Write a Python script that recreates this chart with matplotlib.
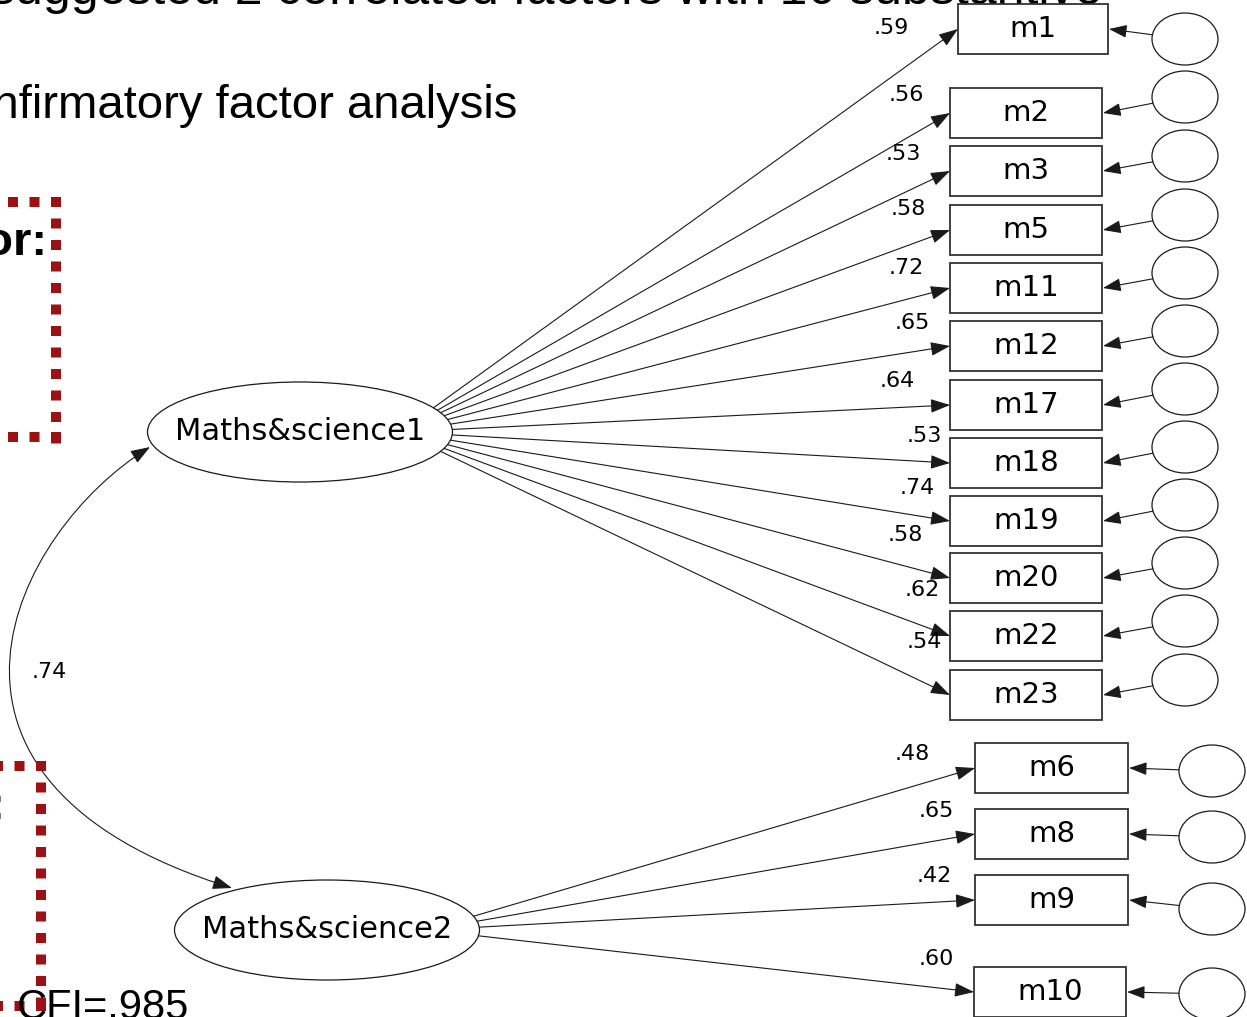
import numpy as np
import matplotlib.pyplot as plt
from matplotlib.patches import Ellipse, Rectangle, FancyArrowPatch
from matplotlib.path import Path

# values
factors = ['Maths&science1', 'Maths&science2']
f1_items = ['m1', 'm2', 'm3', 'm5', 'm11', 'm12', 'm17', 'm18', 'm19', 'm20', 'm22', 'm23']
f1_loadings = [0.59, 0.56, 0.53, 0.58, 0.72, 0.65, 0.64, 0.53, 0.74, 0.58, 0.62, 0.54]
f2_items = ['m6', 'm8', 'm9', 'm10']
f2_loadings = [0.48, 0.65, 0.42, 0.60]
factor_corr = 0.74
cfi = '.985'

# layout (pixels, y downwards)
f1_box_x = [958] + [950] * 11
f1_box_w = [150] + [152] * 11
f1_box_y = [29, 113, 171, 230, 288, 346, 405, 463, 521, 578, 636, 695]
f1_err_y = [39, 97, 156, 215, 273, 331, 389, 447, 505, 563, 621, 680]
f1_lab = [(891, 28), (906, 95), (903, 154), (908, 209), (906, 268), (912, 323),
          (897, 381), (924, 436), (917, 488), (905, 535), (922, 590), (924, 642)]
f2_box_x = [975, 975, 975, 974]
f2_box_w = [153, 153, 153, 152]
f2_box_y = [768, 834, 900, 992]
f2_err_y = [771, 837, 909, 994]
f2_lab = [(912, 754), (936, 811), (934, 876), (936, 959)]

W, H = 1247, 1017
fig = plt.figure(figsize=(W / 100, H / 100), dpi=100)
ax = fig.add_axes([0, 0, 1, 1])
ax.set_xlim(0, W)
ax.set_ylim(H, 0)
ax.axis('off')

LC = '#1a1a1a'
slide = 'Liberation Sans'
amos = 'DejaVu Sans'


def fmt(v):
    return f'{v:.2f}'.lstrip('0')


def edge(cx, cy, rx, ry, fx, fy, tx, ty):
    # point where segment focus->target leaves the ellipse
    dx, dy = tx - fx, ty - fy
    ux, uy = (fx - cx) / rx, (fy - cy) / ry
    vx, vy = dx / rx, dy / ry
    a = vx * vx + vy * vy
    b = 2 * (ux * vx + uy * vy)
    c = ux * ux + uy * uy - 1
    s = (-b + np.sqrt(b * b - 4 * a * c)) / (2 * a)
    return fx + s * dx, fy + s * dy


def arrow(p0, p1, hl=12, hw=4.3):
    ax.add_patch(FancyArrowPatch(p0, p1, arrowstyle=f'-|>,head_length={hl},head_width={hw}',
                                 mutation_scale=1, lw=0.8, color=LC, shrinkA=0, shrinkB=0, zorder=3))


# slide text behind the diagram
ax.text(-10, 4, 'suggested 2 correlated factors with 16 substantive', fontsize=36,
        family=slide, va='baseline', zorder=0)
ax.text(517, 118, 'Confirmatory factor analysis', fontsize=34, family=slide,
        ha='right', va='baseline', zorder=0)
ax.text(48, 255, 'Factor:', fontsize=34, family=slide, weight='bold', ha='right',
        va='baseline', zorder=0)
ax.text(6, 819, 'Factor:', fontsize=34, family=slide, weight='bold', ha='right',
        va='baseline', zorder=0)
ax.text(17, 1019, 'CFI=' + cfi, fontsize=30, family=slide, va='baseline', zorder=6)

red = '#9c1111'
dots = dict(color=red, lw=7.2, linestyle=(0, (1, 1.15)), solid_capstyle='butt')
ax.plot([61, 0], [202, 202], zorder=1, **dots)
ax.plot([56, 56], [197, 444], zorder=1, **dots)
ax.plot([61, 0], [437, 437], zorder=1, **dots)
ax.plot([46, 0], [766, 766], zorder=5, **dots)
ax.plot([41, 41], [761, 1010], zorder=5, **dots)
ax.plot([46, 0], [1006, 1006], zorder=5, **dots)

# latent factors
fac_c = [(300, 432), (327, 930)]
rx, ry = 152.5, 50
for (cx, cy), name in zip(fac_c, factors):
    ax.add_patch(Ellipse((cx, cy), 2 * rx, 2 * ry, fill=False, ec=LC, lw=0.9, zorder=4))
    ax.text(cx, cy - 1, name, fontsize=22, family=amos, ha='center', va='center', zorder=5)


def block(items, loads, bx, bw, by, ey, labs, fc, ecx):
    cx, cy = fc
    for it, ld, x0, w, y, e, (lx, ly) in zip(items, loads, bx, bw, by, ey, labs):
        ax.add_patch(Rectangle((x0, y - 25), w, 50, fc='white', ec='#333333', lw=1.3, zorder=4))
        ax.text(x0 + w / 2, y, it, fontsize=21, family=amos, ha='center', va='center', zorder=5)
        s = edge(cx, cy, rx, ry, cx + 100, cy, x0, y)
        arrow(s, (x0, y))
        ax.text(lx, ly, fmt(ld), fontsize=16, family=amos, ha='center', va='center', zorder=5)
        ax.add_patch(Ellipse((ecx, e), 66, 52, fill=False, ec=LC, lw=0.9, zorder=4))
        s2 = edge(ecx, e, 33, 26, ecx, e, x0 + w, y)
        arrow(s2, (x0 + w + 1, y), hl=11, hw=4)


block(f1_items, f1_loadings, f1_box_x, f1_box_w, f1_box_y, f1_err_y, f1_lab, fac_c[0], 1185)
block(f2_items, f2_loadings, f2_box_x, f2_box_w, f2_box_y, f2_err_y, f2_lab, fac_c[1], 1212)

# correlation between the factors
verts = [(150, 447), (15, 530), (-115, 780), (232, 888)]
cov = Path(verts, [Path.MOVETO, Path.CURVE4, Path.CURVE4, Path.CURVE4])
ax.add_patch(FancyArrowPatch(path=cov, arrowstyle='<|-|>,head_length=12,head_width=4.3',
                             mutation_scale=1, lw=0.8, color=LC, zorder=3))
ax.text(49, 672, fmt(factor_corr), fontsize=16, family=amos, ha='center', va='center', zorder=5)

fig.savefig('out.png', dpi=100, facecolor='white')
